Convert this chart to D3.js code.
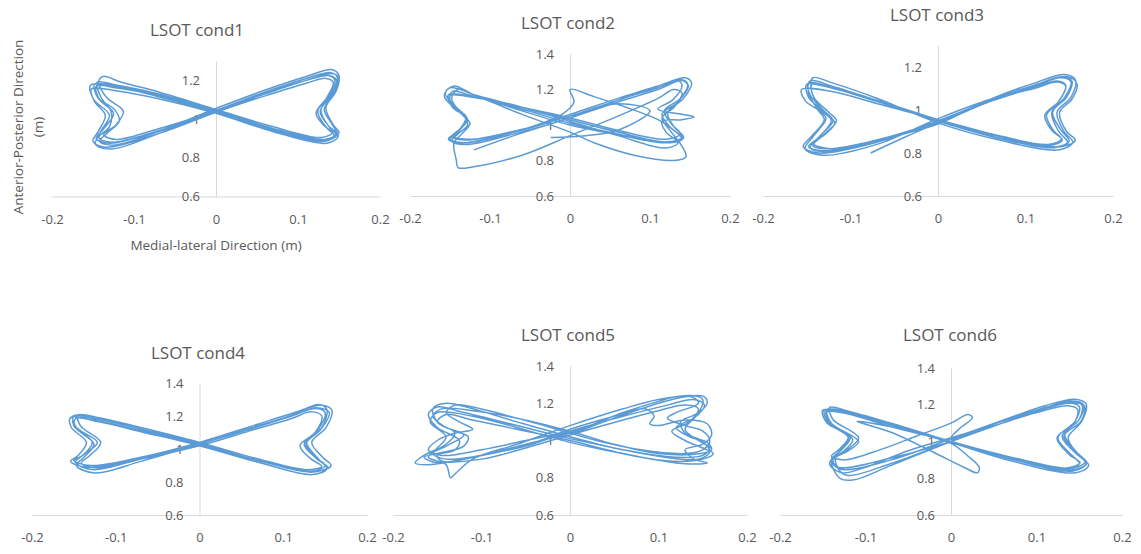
<!DOCTYPE html>
<html>
<head>
<meta charset="utf-8">
<script src="https://cdn.jsdelivr.net/npm/d3@7"></script>
<style>
	body { margin: 0; background: #fff; }
	svg { display: block; }
</style>
</head>
<body>
<div id="chart"></div>
<script>
// Tick values shared by every panel
var xTicks = [-0.2, -0.1, 0, 0.1, 0.2];
var yTicks = [0.6, 0.8, 1, 1.2, 1.4];

var titles = ["LSOT cond1", "LSOT cond2", "LSOT cond3", "LSOT cond4", "LSOT cond5", "LSOT cond6"];
var yMaxes = [1.3, 1.4, 1.3, 1.4, 1.4, 1.4];

// Centre-of-pressure traces: [medial-lateral, anterior-posterior] (m)
var cond1 = [
	[0.00,1.04],[0.06,1.13],[0.11,1.20],[0.138,1.225],[0.147,1.20],[0.140,1.12],[0.127,1.04],[0.138,0.96],[0.146,0.92],[0.132,0.895],[0.07,0.95],
	[0.00,1.04],[-0.07,1.12],[-0.12,1.16],[-0.146,1.17],[-0.142,1.10],[-0.125,1.03],[-0.137,0.95],[-0.146,0.90],[-0.13,0.875],[-0.07,0.94],
	[0.00,1.055],[0.06,1.15],[0.11,1.22],[0.142,1.255],[0.15,1.225],[0.145,1.14],[0.132,1.05],[0.142,0.97],[0.149,0.91],[0.135,0.875],[0.07,0.935],
	[0.00,1.03],[-0.07,1.105],[-0.12,1.145],[-0.152,1.155],[-0.148,1.09],[-0.135,1.02],[-0.143,0.94],[-0.15,0.885],[-0.135,0.855],[-0.07,0.925],
	[0.00,1.035],[0.06,1.12],[0.11,1.185],[0.134,1.21],[0.143,1.19],[0.135,1.11],[0.122,1.03],[0.132,0.965],[0.142,0.93],[0.128,0.905],[0.07,0.96],
	[0.00,1.05],[-0.07,1.14],[-0.115,1.19],[-0.138,1.22],[-0.143,1.19],[-0.133,1.11],[-0.113,1.04],[-0.122,0.97],[-0.137,0.92],[-0.122,0.895],[-0.07,0.95],
	[0.00,1.045],[0.06,1.14],[0.11,1.21],[0.14,1.24],[0.148,1.215],[0.142,1.13],[0.128,1.05],[0.137,0.965],[0.147,0.925],[0.133,0.885],[0.07,0.94],
	[0.00,1.035],[-0.07,1.115],[-0.12,1.165],[-0.153,1.175],[-0.149,1.10],[-0.13,1.02],[-0.14,0.94],[-0.147,0.87],[-0.128,0.845],[-0.07,0.925],
	[0.00,1.04],[0.06,1.13],[0.11,1.20],[0.142,1.235],[0.15,1.21],[0.146,1.14],[0.134,1.06],[0.143,0.97],[0.15,0.93],[0.136,0.89],[0.07,0.945],
	[0.00,1.04],[-0.07,1.125],[-0.12,1.17],[-0.148,1.18],[-0.144,1.11],[-0.124,1.05],[-0.118,0.99],[-0.132,0.93],[-0.142,0.885],[-0.125,0.865],[-0.07,0.935],
	[0.00,1.04],[0.06,1.135],[0.11,1.20],[0.137,1.225],[0.145,1.20],[0.138,1.12],[0.124,1.04],[0.135,0.955],[0.144,0.915],[0.13,0.89],[0.07,0.95],
	[0.00,1.045],[-0.07,1.13],[-0.12,1.175],[-0.145,1.19],[-0.14,1.11],[-0.128,1.04],[-0.13,0.96],[-0.143,0.905],[-0.128,0.88],[-0.07,0.94],[0.00,1.04]
];

var cond2 = [
	[-0.12,0.86],[-0.07,0.94],[0.00,1.04],[0.06,1.13],[0.11,1.20],[0.14,1.25],[0.148,1.22],[0.135,1.13],[0.115,1.06],[0.127,0.98],[0.14,0.93],[0.12,0.905],[0.06,0.96],
	[0.00,1.03],[-0.06,1.10],[-0.12,1.16],[-0.152,1.17],[-0.147,1.10],[-0.13,1.04],[-0.138,0.97],[-0.148,0.935],[-0.13,0.915],[-0.065,0.97],
	[0.00,1.05],[0.06,1.14],[0.11,1.22],[0.145,1.265],[0.152,1.235],[0.142,1.15],[0.122,1.07],[0.13,0.99],[0.142,0.93],[0.12,0.90],[0.06,0.945],
	[0.00,1.00],[-0.06,1.08],[-0.12,1.17],[-0.145,1.22],[-0.156,1.18],[-0.142,1.09],[-0.128,1.03],[-0.142,0.96],[-0.152,0.92],[-0.135,0.90],[-0.07,0.96],
	[0.00,1.06],[0.06,1.15],[0.11,1.22],[0.135,1.25],[0.14,1.22],[0.128,1.14],[0.11,1.09],[0.14,1.06],[0.155,1.045],[0.14,1.03],[0.115,1.02],[0.12,0.96],[0.135,0.90],[0.12,0.87],[0.06,0.94],
	[0.00,1.02],[-0.06,1.10],[-0.12,1.17],[-0.14,1.20],[-0.148,1.15],[-0.135,1.06],[-0.125,1.01],[-0.135,0.95],[-0.145,0.90],[-0.142,0.80],[-0.14,0.76],[-0.12,0.765],[-0.06,0.83],
	[0.00,0.94],[0.06,1.05],[0.11,1.15],[0.13,1.20],[0.14,1.18],[0.13,1.10],[0.115,1.04],[0.125,0.97],[0.14,0.88],[0.145,0.82],[0.13,0.80],[0.08,0.83],[0.03,0.90],
	[0.00,0.96],[-0.06,1.06],[-0.11,1.15],[-0.15,1.21],[-0.157,1.16],[-0.14,1.08],[-0.13,1.03],[-0.14,0.96],[-0.15,0.92],[-0.13,0.90],[-0.07,0.96],
	[-0.01,1.06],[0.005,1.13],[0.00,1.20],[0.03,1.16],[0.07,1.10],[0.11,1.03],[0.13,0.97],[0.14,0.92],[0.125,0.90],[0.06,0.95],
	[0.00,1.01],[-0.06,1.09],[-0.12,1.16],[-0.147,1.19],[-0.15,1.14],[-0.133,1.06],[-0.128,1.00],[-0.14,0.95],[-0.148,0.91],[-0.13,0.89],[-0.07,0.95],
	[0.00,1.04],[0.06,1.14],[0.11,1.21],[0.14,1.255],[0.147,1.23],[0.138,1.15],[0.118,1.08],[0.128,1.00],[0.138,0.95],[0.12,0.92],[0.06,0.97],
	[0.00,1.04],[-0.06,1.10],[-0.12,1.155],[-0.15,1.165],[-0.146,1.10],[-0.13,1.05],[-0.137,0.98],[-0.147,0.94],[-0.128,0.92],[-0.07,0.96],
	[0.00,1.05],[0.06,1.12],[0.10,1.08],[0.06,0.97],[0.02,0.94],[-0.024,0.93]
];

var cond3 = [
	[-0.077,0.80],[-0.04,0.87],[0.00,0.94],[0.06,1.04],[0.11,1.11],[0.14,1.15],[0.152,1.13],[0.145,1.06],[0.13,0.99],[0.138,0.90],[0.148,0.85],[0.13,0.825],[0.07,0.87],
	[0.00,0.95],[-0.07,1.04],[-0.12,1.10],[-0.15,1.12],[-0.148,1.06],[-0.13,0.99],[-0.122,0.95],[-0.137,0.87],[-0.148,0.83],[-0.13,0.81],[-0.07,0.86],
	[0.00,0.935],[0.06,1.05],[0.11,1.125],[0.145,1.165],[0.157,1.14],[0.152,1.06],[0.136,0.99],[0.144,0.90],[0.154,0.85],[0.139,0.815],[0.07,0.86],
	[0.00,0.94],[-0.07,1.055],[-0.12,1.125],[-0.143,1.15],[-0.145,1.10],[-0.135,1.00],[-0.128,0.96],[-0.142,0.88],[-0.152,0.82],[-0.132,0.79],[-0.07,0.84],
	[0.00,0.96],[0.06,1.05],[0.11,1.10],[0.136,1.13],[0.146,1.11],[0.138,1.04],[0.122,0.975],[0.13,0.905],[0.141,0.865],[0.126,0.84],[0.07,0.88],
	[0.00,0.955],[-0.07,1.03],[-0.12,1.085],[-0.156,1.095],[-0.151,1.04],[-0.128,0.98],[-0.118,0.94],[-0.131,0.88],[-0.143,0.845],[-0.123,0.82],[-0.07,0.86],
	[0.00,0.945],[0.06,1.045],[0.11,1.115],[0.148,1.155],[0.159,1.12],[0.153,1.05],[0.139,0.99],[0.147,0.90],[0.157,0.86],[0.142,0.83],[0.07,0.87],
	[0.00,0.95],[-0.07,1.045],[-0.12,1.11],[-0.146,1.135],[-0.148,1.08],[-0.137,1.00],[-0.13,0.955],[-0.144,0.88],[-0.154,0.83],[-0.136,0.80],[-0.07,0.85],
	[0.00,0.95],[0.06,1.045],[0.11,1.115],[0.142,1.155],[0.153,1.135],[0.147,1.06],[0.131,0.99],[0.14,0.91],[0.15,0.855],[0.134,0.825],[0.07,0.868],
	[0.00,0.948],[-0.07,1.04],[-0.12,1.105],[-0.148,1.125],[-0.146,1.07],[-0.13,0.995],[-0.12,0.95],[-0.136,0.875],[-0.146,0.825],[-0.128,0.805],[-0.07,0.855],
	[0.00,0.94],[0.06,1.04],[0.11,1.105],[0.136,1.135],[0.146,1.115],[0.138,1.04],[0.124,0.975],[0.132,0.905],[0.142,0.86],[0.127,0.835],[0.07,0.878],
	[0.00,0.955],[-0.07,1.045],[-0.12,1.10],[-0.144,1.12],[-0.142,1.06],[-0.125,0.99],[-0.116,0.95],[-0.132,0.88],[-0.143,0.835],[-0.125,0.82],[-0.07,0.86],[0.00,0.945]
];

var cond4 = [
	[0.00,1.03],[0.06,1.12],[0.11,1.20],[0.14,1.25],[0.155,1.22],[0.145,1.12],[0.127,1.03],[0.14,0.94],[0.153,0.89],[0.135,0.86],[0.07,0.93],
	[0.00,1.03],[-0.07,1.12],[-0.12,1.18],[-0.15,1.20],[-0.15,1.14],[-0.128,1.04],[-0.14,0.96],[-0.15,0.93],[-0.13,0.90],[-0.07,0.95],
	[0.00,1.04],[0.06,1.135],[0.11,1.215],[0.145,1.265],[0.158,1.235],[0.151,1.13],[0.134,1.04],[0.147,0.95],[0.157,0.90],[0.141,0.865],[0.07,0.93],
	[0.00,1.025],[-0.07,1.11],[-0.12,1.17],[-0.154,1.19],[-0.153,1.13],[-0.135,1.04],[-0.145,0.96],[-0.154,0.925],[-0.135,0.89],[-0.07,0.94],
	[0.00,1.02],[0.06,1.11],[0.11,1.185],[0.133,1.225],[0.146,1.20],[0.138,1.10],[0.12,1.02],[0.133,0.94],[0.146,0.895],[0.128,0.875],[0.07,0.94],
	[0.00,1.04],[-0.07,1.13],[-0.12,1.19],[-0.145,1.205],[-0.142,1.14],[-0.118,1.04],[-0.131,0.96],[-0.141,0.915],[-0.123,0.885],[-0.07,0.945],
	[0.00,1.03],[0.06,1.125],[0.11,1.205],[0.142,1.27],[0.152,1.24],[0.146,1.13],[0.128,1.04],[0.142,0.94],[0.152,0.88],[0.135,0.845],[0.07,0.92],
	[0.00,1.02],[-0.07,1.105],[-0.12,1.165],[-0.148,1.185],[-0.148,1.13],[-0.126,1.03],[-0.138,0.95],[-0.147,0.90],[-0.125,0.855],[-0.07,0.925],
	[0.00,1.03],[0.06,1.12],[0.11,1.20],[0.138,1.245],[0.15,1.22],[0.142,1.12],[0.125,1.03],[0.138,0.95],[0.15,0.90],[0.133,0.865],[0.07,0.93],
	[0.00,1.035],[-0.07,1.12],[-0.12,1.18],[-0.151,1.20],[-0.147,1.13],[-0.122,1.04],[-0.137,0.97],[-0.148,0.92],[-0.128,0.875],[-0.07,0.94],[0.00,1.03]
];

var cond5 = [
	[0.00,1.03],[0.05,1.12],[0.10,1.20],[0.13,1.235],[0.151,1.237],[0.155,1.20],[0.14,1.12],[0.13,1.06],[0.145,1.00],[0.158,0.96],[0.15,0.92],[0.12,0.91],[0.06,0.95],
	[0.00,1.02],[-0.06,1.10],[-0.11,1.17],[-0.14,1.20],[-0.155,1.17],[-0.15,1.10],[-0.13,1.04],[-0.14,0.98],[-0.165,0.92],[-0.175,0.88],[-0.16,0.87],[-0.10,0.92],[-0.05,0.97],
	[0.00,1.05],[0.06,1.13],[0.11,1.19],[0.14,1.22],[0.152,1.19],[0.14,1.12],[0.12,1.07],[0.135,1.02],[0.155,0.99],[0.16,0.95],[0.148,0.93],[0.10,0.93],[0.05,0.98],
	[0.00,1.05],[-0.06,1.12],[-0.11,1.16],[-0.145,1.17],[-0.155,1.13],[-0.14,1.07],[-0.12,1.03],[-0.14,0.97],[-0.155,0.93],[-0.14,0.90],[-0.08,0.94],[-0.04,0.99],
	[0.00,1.06],[0.05,1.13],[0.085,1.17],[0.095,1.13],[0.09,1.09],[0.10,1.08],[0.13,1.11],[0.155,1.09],[0.16,1.03],[0.15,0.98],[0.13,0.95],[0.14,0.90],[0.155,0.88],[0.13,0.875],[0.07,0.92],
	[0.00,0.99],[-0.06,1.07],[-0.11,1.13],[-0.15,1.15],[-0.158,1.10],[-0.14,1.02],[-0.15,0.96],[-0.16,0.91],[-0.14,0.87],[-0.135,0.80],[-0.13,0.82],[-0.11,0.90],[-0.06,0.98],
	[0.00,1.08],[0.06,1.17],[0.10,1.22],[0.14,1.24],[0.15,1.22],[0.145,1.15],[0.125,1.10],[0.13,1.04],[0.148,1.00],[0.158,0.94],[0.145,0.90],[0.10,0.915],[0.05,0.96],
	[0.00,1.01],[-0.06,1.08],[-0.12,1.15],[-0.15,1.18],[-0.16,1.14],[-0.15,1.07],[-0.125,1.00],[-0.13,0.95],[-0.15,0.92],[-0.145,0.89],[-0.10,0.90],[-0.05,0.96],
	[0.00,1.03],[0.06,1.11],[0.10,1.16],[0.13,1.19],[0.145,1.17],[0.135,1.10],[0.115,1.05],[0.13,1.00],[0.15,0.96],[0.162,0.93],[0.15,0.90],[0.11,0.89],[0.06,0.93],
	[0.00,1.00],[-0.06,1.06],[-0.11,1.11],[-0.14,1.14],[-0.15,1.10],[-0.13,1.05],[-0.115,1.02],[-0.12,0.97],[-0.15,0.93],[-0.165,0.91],[-0.15,0.88],[-0.10,0.92],[-0.05,0.98],
	[0.00,1.04],[0.06,1.15],[0.10,1.21],[0.12,1.235],[0.14,1.23],[0.145,1.20],[0.12,1.15],[0.11,1.12],[0.13,1.08],[0.15,1.05],[0.158,1.00],[0.15,0.95],[0.13,0.93],[0.08,0.95],[0.03,1.00],
	[0.00,1.04],[-0.06,1.12],[-0.11,1.18],[-0.13,1.19],[-0.14,1.15],[-0.125,1.10],[-0.11,1.06],[-0.13,1.04],[-0.15,1.00],[-0.16,0.95],[-0.145,0.92],[-0.10,0.95],[-0.05,1.00],[0.00,1.05]
];

var cond6 = [
	[0.00,1.01],[0.06,1.10],[0.11,1.18],[0.14,1.21],[0.153,1.20],[0.15,1.12],[0.13,1.03],[0.145,0.94],[0.158,0.88],[0.14,0.845],[0.07,0.91],
	[0.00,1.00],[-0.07,1.08],[-0.12,1.15],[-0.146,1.165],[-0.14,1.10],[-0.115,1.01],[-0.125,0.95],[-0.14,0.90],[-0.13,0.85],[-0.07,0.90],
	[0.00,1.015],[0.06,1.115],[0.11,1.195],[0.145,1.23],[0.158,1.205],[0.153,1.11],[0.137,1.02],[0.149,0.93],[0.161,0.87],[0.146,0.83],[0.07,0.895],
	[0.00,0.995],[-0.07,1.095],[-0.12,1.165],[-0.142,1.185],[-0.138,1.12],[-0.108,1.02],[-0.12,0.96],[-0.135,0.91],[-0.13,0.84],[-0.12,0.815],[-0.07,0.88],
	[0.00,1.00],[0.06,1.10],[0.11,1.17],[0.136,1.195],[0.148,1.175],[0.144,1.10],[0.124,1.02],[0.138,0.93],[0.151,0.885],[0.133,0.855],[0.07,0.915],
	[0.00,1.00],[-0.07,1.10],[-0.12,1.16],[-0.15,1.17],[-0.145,1.10],[-0.12,1.03],[-0.13,0.96],[-0.14,0.92],[-0.125,0.90],[-0.08,0.96],[-0.04,1.03],[0.00,1.10],[0.02,1.147],[0.025,1.13],[0.01,1.07],[0.00,1.02],
	[0.06,1.11],[0.11,1.185],[0.14,1.22],[0.155,1.20],[0.15,1.12],[0.133,1.04],[0.145,0.95],[0.157,0.89],[0.142,0.855],[0.07,0.915],
	[0.00,1.00],[-0.07,1.09],[-0.12,1.155],[-0.148,1.17],[-0.143,1.10],[-0.12,1.02],[-0.13,0.95],[-0.142,0.88],[-0.128,0.83],[-0.10,0.86],[-0.05,0.95],[0.00,1.02],
	[0.06,1.10],[0.11,1.18],[0.137,1.21],[0.15,1.19],[0.145,1.11],[0.125,1.02],[0.138,0.94],[0.15,0.88],[0.135,0.85],[0.07,0.91],
	[0.00,1.00],[-0.07,1.08],[-0.11,1.11],[-0.07,1.05],[-0.02,0.94],[0.015,0.86],[0.031,0.83],[0.033,0.86],[0.02,0.92],[0.00,0.99],
	[-0.07,1.08],[-0.12,1.15],[-0.145,1.16],[-0.142,1.10],[-0.118,1.02],[-0.128,0.955],[-0.14,0.90],[-0.13,0.80],[-0.115,0.79],[-0.07,0.87],
	[0.00,1.00],[0.06,1.10],[0.11,1.18],[0.142,1.215],[0.156,1.195],[0.152,1.11],[0.132,1.03],[0.146,0.94],[0.159,0.885],[0.143,0.84],[0.07,0.905],
	[0.00,1.00],[-0.07,1.09],[-0.12,1.16],[-0.145,1.175],[-0.14,1.10],[-0.108,1.00],[-0.12,0.95],[-0.138,0.90],[-0.132,0.86],[-0.07,0.91],[0.00,1.00]
];

var traces = [cond1, cond2, cond3, cond4, cond5, cond6];

// Where each panel sits on the page (pixels)
var layout = [
	{ xr: [52, 380],  yr: [196.5, 61],  tx: 197, ty: 30 },
	{ xr: [410, 730], yr: [196, 54],    tx: 568, ty: 23 },
	{ xr: [763, 1113], yr: [196, 45.5], tx: 937, ty: 15 },
	{ xr: [32, 367],  yr: [515, 383],   tx: 198, ty: 353 },
	{ xr: [393, 747], yr: [515, 366],   tx: 568, ty: 335 },
	{ xr: [780, 1122], yr: [515, 368],  tx: 950, ty: 335 }
];

var width = 1141,
	height = 554,
	svg;

var lineColor = "#5B9BD5",
	axisColor = "#D9D9D9",
	textColor = "#595959",
	font = "'Open Sans', 'Liberation Sans', sans-serif";

function init() {
	svg = d3.select("#chart")
		.append("svg")
		.attr("width", width)
		.attr("height", height);

	for (var i = 0; i < traces.length; i++) {
		drawPanel(i);
	}
	drawAxisTitles();
}

function drawPanel(i) {
	var lay = layout[i];
	var x = d3.scaleLinear().domain([-0.2, 0.2]).range(lay.xr);
	var y = d3.scaleLinear().domain([0.6, yMaxes[i]]).range(lay.yr);
	var g = svg.append("g");

	// horizontal axis sits at the bottom (0.6)
	var xAxis = g.append("g")
		.attr("transform", "translate(0," + y(0.6) + ")")
		.call(d3.axisBottom(x).tickValues(xTicks).tickSize(0).tickSizeOuter(0).tickPadding(18).tickFormat(String));

	// vertical axis crosses at x = 0
	var yAxis = g.append("g")
		.attr("transform", "translate(" + x(0) + ",0)")
		.call(d3.axisLeft(y).tickValues(yTicks.filter(function(v) { return v <= yMaxes[i] + 1e-9; }))
			.tickSize(0).tickSizeOuter(0).tickPadding(16).tickFormat(String));

	[xAxis, yAxis].forEach(function(a) {
		a.attr("font-family", font).attr("font-size", 13);
		a.select(".domain").attr("stroke", axisColor).attr("stroke-width", 1);
		a.selectAll("text").attr("fill", textColor);
	});

	var line = d3.line()
		.x(function(d) { return x(d[0]); })
		.y(function(d) { return y(d[1]); })
		.curve(d3.curveCatmullRom.alpha(0.5));

	g.append("path")
		.datum(traces[i])
		.attr("d", line)
		.attr("fill", "none")
		.attr("stroke", lineColor)
		.attr("stroke-width", 1.5)
		.attr("stroke-linejoin", "round");

	g.append("text")
		.attr("x", lay.tx)
		.attr("y", lay.ty)
		.attr("dy", "0.35em")
		.attr("text-anchor", "middle")
		.attr("font-family", font)
		.attr("font-size", 17)
		.attr("fill", textColor)
		.text(titles[i]);
}

function drawAxisTitles() {
	// only the first panel carries axis titles
	svg.append("text")
		.attr("transform", "translate(18,127) rotate(-90)")
		.attr("text-anchor", "middle")
		.attr("dy", "0.35em")
		.attr("font-family", font)
		.attr("font-size", 13.5)
		.attr("fill", textColor)
		.text("Anterior-Posterior Direction");

	svg.append("text")
		.attr("transform", "translate(38,127) rotate(-90)")
		.attr("text-anchor", "middle")
		.attr("dy", "0.35em")
		.attr("font-family", font)
		.attr("font-size", 13.5)
		.attr("fill", textColor)
		.text("(m)");

	svg.append("text")
		.attr("x", 216)
		.attr("y", 245)
		.attr("dy", "0.35em")
		.attr("text-anchor", "middle")
		.attr("font-family", font)
		.attr("font-size", 13.5)
		.attr("fill", textColor)
		.text("Medial-lateral Direction (m)");
}

window.onload = init;
</script>
</body>
</html>
